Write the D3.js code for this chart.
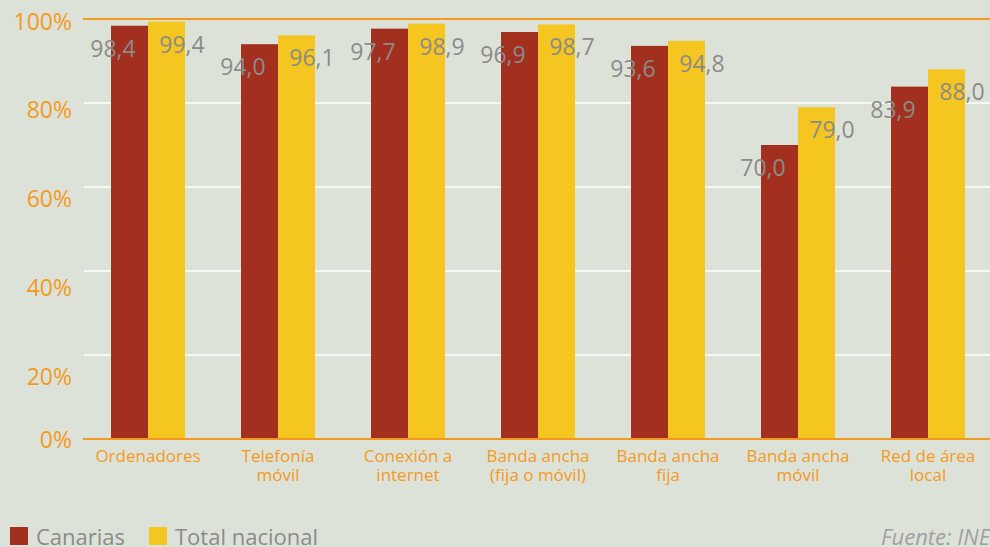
<!DOCTYPE html>
<html><head><meta charset="utf-8">
<script src="https://cdn.jsdelivr.net/npm/d3@7"></script>
<style>
html,body{margin:0;padding:0;background:#dde2d9;}
svg{display:block;font-family:"Open Sans",sans-serif;}
</style></head>
<body><svg id="c" width="990" height="547"></svg>
<script>
const categories = [["Ordenadores"],["Telefonía","móvil"],["Conexión a","internet"],["Banda ancha","(fija o móvil)"],["Banda ancha","fija"],["Banda ancha","móvil"],["Red de área","local"]];
const seriesNames = ["Canarias","Total nacional"];
const canarias = [98.4,94.0,97.7,96.9,93.6,70.0,83.9];
const totalNacional = [99.4,96.1,98.9,98.7,94.8,79.0,88.0];
const yTicks = [0,20,40,60,80,100];
const source = "Fuente: INE";

const colors = ["#a3301e","#f5c520"];
const orange = "#f39a1e";
const grey = "#8b8b8b";
const svg = d3.select("#c");

const y = d3.scaleLinear().domain([0,100]).range([439,19]);
const x0 = d3.scaleBand().domain(d3.range(categories.length)).range([83,993]).paddingInner(0.4308).paddingOuter(0.2154);
const x1 = d3.scaleBand().domain([0,1]).range([0,x0.bandwidth()]);
const fmt = v => d3.format(".1f")(v).replace(".",",");

// gridlines
svg.append("g").selectAll("line").data(yTicks.filter(t=>t>0 && t<100)).join("line")
  .attr("x1",84).attr("x2",990).attr("y1",d=>y(d)).attr("y2",d=>y(d))
  .attr("stroke","#ffffff").attr("stroke-width",1.5);

// y labels (offset as in the original)
const labOff = t => t===0 ? 1 : 2.5 + (100-t)/20*4.8;
svg.append("g").selectAll("text").data(yTicks).join("text")
  .attr("x",72).attr("y",d=>y(d)+labOff(d)).attr("dy","0.35em")
  .attr("text-anchor","end").attr("fill",orange).attr("font-size",23).text(d=>d+"%");

// bars
const series = [canarias,totalNacional];
series.forEach((vals,si)=>{
  svg.append("g").selectAll("rect").data(vals).join("rect")
    .attr("x",(d,i)=>x0(i)+x1(si)).attr("width",x1.bandwidth())
    .attr("y",d=>y(d)).attr("height",d=>y(0)-y(d)).attr("fill",colors[si]);
});

// top orange line and axis
[100,0].forEach(t=>{
  svg.append("line").attr("x1",83).attr("x2",990).attr("y1",y(t)).attr("y2",y(t))
    .attr("stroke",orange).attr("stroke-width",2);
});

// value labels
series.forEach((vals,si)=>{
  svg.append("g").selectAll("text").data(vals).join("text")
    .attr("x",(d,i)=> si===0 ? x0(i)+2 : x0(i)+x0.bandwidth()-3)
    .attr("y",d=>y(d)+31).attr("text-anchor","middle")
    .attr("fill",grey).attr("font-size",23).text(fmt);
});

// category labels
const cl = svg.append("g").selectAll("text").data(categories).join("text")
  .attr("text-anchor","middle").attr("fill",orange).attr("font-size",17)
  .attr("transform",(d,i)=>`translate(${x0(i)+x0.bandwidth()/2},462)`);
cl.selectAll("tspan").data(d=>d).join("tspan").attr("x",0).attr("dy",(d,j)=>j===0?0:19).text(d=>d);

// legend
const legX = [10,149];
seriesNames.forEach((n,i)=>{
  svg.append("rect").attr("x",legX[i]).attr("y",527).attr("width",18).attr("height",18).attr("fill",colors[i]);
  svg.append("text").attr("x",legX[i]+26).attr("y",545).attr("fill",grey).attr("font-size",22).text(n);
});
svg.append("text").attr("x",881).attr("y",545).attr("fill","#a0a0a0").attr("font-size",22).attr("font-style","italic").text(source);
</script></body></html>
